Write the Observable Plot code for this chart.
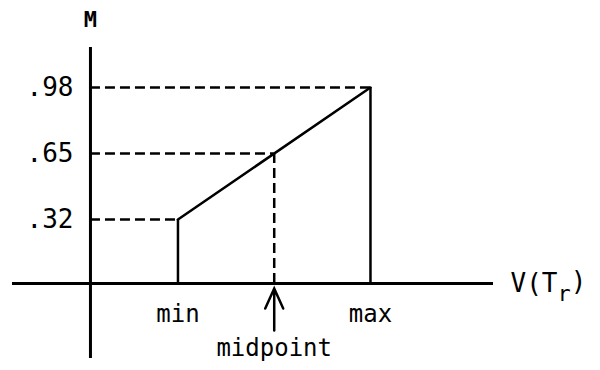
<!DOCTYPE html>
<html><head><meta charset="utf-8">
<script src="https://cdn.jsdelivr.net/npm/d3@7"></script>
<script src="https://cdn.jsdelivr.net/npm/@observablehq/plot@0.6"></script>
<style>body{margin:0;background:#fff}</style>
</head><body><div id="chart"></div>
<script>
// Data (schematic units)
const categories = ["min", "midpoint", "max"];
const positions = [1, 2.1, 3.2];
const mValues = [0.32, 0.65, 0.98];
const tickLabels = [".32", ".65", ".98"];
const yAxisLabel = "M";
const xAxisLabelParts = ["V(T", "r", ")"];
const arrowBase = -0.235;

const pts = categories.map((c, i) => ({label: c, x: positions[i], m: mValues[i], tick: tickLabels[i]}));
const ends = pts.filter(d => d.label !== "midpoint");
const mid = pts.filter(d => d.label === "midpoint");
const font = "DejaVu Sans Mono";

// open arrowhead pointing up (narrow, long wings)
const upArrow = {
  draw(ctx, l) {
    ctx.moveTo(0, 0);
    ctx.lineTo(0, -l);
    ctx.moveTo(-9, 20 - l);
    ctx.lineTo(0, -l);
    ctx.lineTo(9, 20 - l);
  }
};

const chart = Plot.plot({
  width: 600,
  height: 370,
  marginLeft: 12,
  marginRight: 107,
  marginTop: 47,
  marginBottom: 12,
  style: {fontFamily: font, background: "#fff", color: "#000"},
  x: {domain: [-0.891, 4.606], axis: null},
  y: {domain: [-0.375, 1.18], axis: null},
  marks: [
    Plot.ruleY([0], {strokeWidth: 3}),
    Plot.ruleX([0], {strokeWidth: 3}),
    Plot.ruleY(pts, {y: "m", x1: 0, x2: "x", strokeWidth: 2.5, strokeDasharray: "10 5"}),
    Plot.ruleX(mid, {x: "x", y1: 0, y2: "m", strokeWidth: 2.5, strokeDasharray: "10 5"}),
    Plot.ruleX(ends, {x: "x", y1: 0, y2: "m", strokeWidth: 2.5}),
    Plot.line(ends, {x: "x", y: "m", strokeWidth: 2.5}),
    Plot.text(pts, {x: 0, y: "m", text: "tick", textAnchor: "end", dx: -17, lineAnchor: "middle", fontSize: 26}),
    Plot.text(ends, {x: "x", y: 0, text: "label", dy: 38, lineAnchor: "bottom", fontSize: 24}),
    Plot.text(mid, {x: "x", y: 0, text: "label", dy: 72, lineAnchor: "bottom", fontSize: 24}),
    Plot.vector(mid, {x: "x", y: arrowBase, length: 42, rotate: 0, anchor: "start", shape: upArrow, strokeWidth: 2.5, strokeLinejoin: "miter"}),
    Plot.text([yAxisLabel], {x: 0, frameAnchor: "top", dy: -21, lineAnchor: "bottom", fontSize: 22, fontWeight: "bold"}),
    Plot.text([xAxisLabelParts.join("")], {y: 0, frameAnchor: "right", textAnchor: "start", dx: 17, lineAnchor: "middle", fontSize: 26})
  ]
});

// subscript for V(T_r)
d3.select(chart).selectAll("text").each(function() {
  if (this.textContent === xAxisLabelParts.join("")) {
    const t = d3.select(this);
    t.text(null);
    t.append("tspan").text(xAxisLabelParts[0]);
    t.append("tspan").attr("dy", "0.4em").attr("font-size", "22").text(xAxisLabelParts[1]);
    t.append("tspan").attr("dy", "-0.4em").text(xAxisLabelParts[2]);
  }
});

document.getElementById("chart").appendChild(chart);
</script>
</body></html>
